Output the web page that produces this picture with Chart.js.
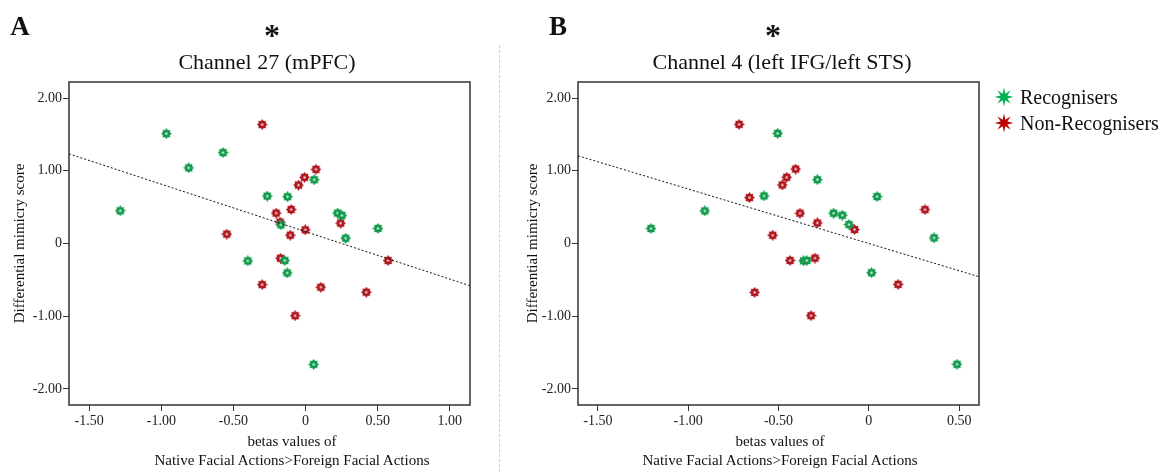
<!DOCTYPE html>
<html>
<head>
<meta charset="utf-8">
<script src="https://cdn.jsdelivr.net/npm/chart.js@4.4.1/dist/chart.umd.min.js"></script>
<style>
  body { margin: 0; background: #fff; width: 1170px; height: 472px; position: relative; overflow: hidden;
         font-family: "Liberation Serif", serif; color: #111; }
  canvas { position: absolute; top: 0; }
  .lbl { position: absolute; white-space: nowrap; transform: translate(-50%, -50%); }
  .panel { font-weight: bold; font-size: 27px; }
  .star { font-weight: bold; font-size: 32px; }
  .title { font-size: 22px; }
  .xt { font-size: 15px; line-height: 19px; text-align: center; }
  .divider { position: absolute; left: 499px; top: 45px; height: 427px; border-left: 1px dashed #cfcfcf; }
  .legend { position: absolute; left: 994px; top: 84px; font-size: 20px; }
  .legend div { height: 26px; display: flex; align-items: center; }
  .legend svg { margin-right: 6px; }
</style>
</head>
<body>
<canvas id="chartA" width="490" height="472" style="left:0"></canvas>
<canvas id="chartB" width="500" height="472" style="left:500px"></canvas>
<div class="divider"></div>

<div class="lbl panel" style="left:20px; top:26px">A</div>
<div class="lbl star" style="left:272px; top:35px">*</div>
<div class="lbl title" style="left:267px; top:62px">Channel 27 (mPFC)</div>
<div class="lbl xt" style="left:292px; top:451px">betas values of<br>Native Facial Actions&gt;Foreign Facial Actions</div>

<div class="lbl panel" style="left:558px; top:26px">B</div>
<div class="lbl star" style="left:773px; top:35px">*</div>
<div class="lbl title" style="left:782px; top:62px">Channel 4 (left IFG/left STS)</div>
<div class="lbl xt" style="left:780px; top:451px">betas values of<br>Native Facial Actions&gt;Foreign Facial Actions</div>

<div class="legend">
  <div><svg width="20" height="20" viewBox="-10 -10 20 20"><polygon id="lg1" fill="#00b050"/></svg>Recognisers</div>
  <div><svg width="20" height="20" viewBox="-10 -10 20 20"><polygon id="lg2" fill="#c00000"/></svg>Non-Recognisers</div>
</div>

<script>
// --- Data ---
const yTicks = [-2, -1, 0, 1, 2];
const xTicksA = [-1.5, -1, -0.5, 0, 0.5, 1];
const xTicksB = [-1.5, -1, -0.5, 0, 0.5];

// Panel A: Channel 27 (mPFC)
const aRecogX = [-0.965, -0.81, -0.572, -1.285, -0.266, -0.125, 0.06, -0.171, 0.222, 0.252, 0.502, 0.278, -0.40, -0.144, -0.127, 0.056];
const aRecogY = [1.51, 1.04, 1.25, 0.45, 0.652, 0.643, 0.877, 0.257, 0.418, 0.386, 0.207, 0.073, -0.239, -0.234, -0.404, -1.662];
const aNonX = [-0.301, 0.072, -0.007, -0.049, -0.10, -0.204, -0.176, 0.243, -0.002, -0.106, -0.546, -0.174, 0.572, -0.301, 0.106, 0.421, -0.072];
const aNonY = [1.635, 1.019, 0.909, 0.803, 0.468, 0.418, 0.294, 0.28, 0.188, 0.115, 0.129, -0.202, -0.234, -0.565, -0.601, -0.67, -0.992];
const aFit = { slope: -0.652, intercept: 0.163 };

// Panel B: Channel 4 (left IFG/left STS)
const bRecogX = [-1.206, -0.908, -0.58, -0.505, -0.285, -0.195, -0.147, -0.11, -0.361, -0.343, 0.046, 0.015, 0.361, 0.488];
const bRecogY = [0.206, 0.448, 0.654, 1.513, 0.878, 0.416, 0.389, 0.261, -0.238, -0.233, 0.645, -0.402, 0.078, -1.66];
const bNonX = [-0.718, -0.661, -0.479, -0.455, -0.405, -0.381, -0.285, -0.532, -0.079, -0.436, -0.298, -0.632, -0.32, 0.162, 0.311];
const bNonY = [1.637, 0.631, 0.805, 0.91, 1.024, 0.416, 0.283, 0.114, 0.192, -0.233, -0.201, -0.672, -0.992, -0.562, 0.466];
const bFit = { slope: -0.749, intercept: 0.0 };

const GREEN = '#119a4c';
const RED = '#b0161e';

// 8-pointed star points
function starPoints(ro, ri, n) {
    const pts = [];
    for (let i = 0; i < n * 2; i++) {
        const r = i % 2 === 0 ? ro : ri;
        const a = -Math.PI / 2 + i * Math.PI / n;
        pts.push([r * Math.cos(a), r * Math.sin(a)]);
    }
    return pts;
}

document.getElementById('lg1').setAttribute('points', starPoints(9.5, 3.6, 8).map(p => p.join(',')).join(' '));
document.getElementById('lg2').setAttribute('points', starPoints(9.5, 3.6, 8).map(p => p.join(',')).join(' '));

// small marker image used as pointStyle
function makeMarker(color) {
    const c = document.createElement('canvas');
    c.width = 11; c.height = 11;
    const g = c.getContext('2d');
    g.translate(5.5, 5.5);
    g.fillStyle = color;
    g.beginPath();
    starPoints(5.4, 3.8, 8).forEach((p, i) => i ? g.lineTo(p[0], p[1]) : g.moveTo(p[0], p[1]));
    g.closePath();
    g.fill();
    g.fillStyle = '#fff';
    g.fillRect(-1, -1, 2, 2);
    return c;
}

const zip = (xs, ys) => xs.map((x, i) => ({ x: x, y: ys[i] }));

// box around the plot area
const frame = {
    id: 'frame',
    afterDraw(chart) {
        const { ctx, chartArea: a } = chart;
        ctx.save();
        ctx.strokeStyle = '#333';
        ctx.lineWidth = 1.5;
        ctx.strokeRect(a.left, a.top, a.right - a.left, a.bottom - a.top);
        ctx.restore();
    }
};

function makeChart(id, p) {
    const fitLine = [p.xMin, p.xMax].map(x => ({ x: x, y: p.fit.slope * x + p.fit.intercept }));
    return new Chart(document.getElementById(id), {
        type: 'scatter',
        data: {
            datasets: [
                { label: 'fit', type: 'line', data: fitLine, borderColor: '#111', borderWidth: 1,
                  borderDash: [2, 2], pointRadius: 0, fill: false, order: 0 },
                { label: 'Recognisers', data: zip(p.rx, p.ry), pointStyle: makeMarker(GREEN), order: 1 },
                { label: 'Non-Recognisers', data: zip(p.nx, p.ny), pointStyle: makeMarker(RED), order: 1 }
            ]
        },
        options: {
            responsive: false,
            animation: false,
            layout: { padding: { top: 82, right: p.padRight, left: 0, bottom: 0 } },
            plugins: { legend: { display: false }, tooltip: { enabled: false } },
            scales: {
                x: {
                    type: 'linear', min: p.xMin, max: p.xMax,
                    afterBuildTicks: s => { s.ticks = p.xTicks.map(v => ({ value: v })); },
                    afterFit: s => { s.height = 67; },
                    grid: { drawOnChartArea: false, tickLength: 6, color: '#333' },
                    border: { display: false },
                    ticks: { color: '#222', font: { family: 'Liberation Serif', size: 14 }, padding: 2,
                             maxRotation: 0, callback: v => v === 0 ? '0' : v.toFixed(2) }
                },
                y: {
                    type: 'linear', min: -2.22, max: 2.22,
                    afterBuildTicks: s => { s.ticks = yTicks.map(v => ({ value: v })); },
                    afterFit: s => { s.width = p.yWidth; },
                    grid: { drawOnChartArea: false, tickLength: 6, color: '#333' },
                    border: { display: false },
                    ticks: { color: '#222', font: { family: 'Liberation Serif', size: 14 }, padding: 1,
                             callback: v => v === 0 ? '0' : v.toFixed(2) },
                    title: { display: true, text: 'Differential mimicry score', color: '#111',
                             font: { family: 'Liberation Serif', size: 15 }, padding: { top: p.yTitlePad, bottom: 0 } }
                }
            }
        },
        plugins: [frame]
    });
}

makeChart('chartA', { rx: aRecogX, ry: aRecogY, nx: aNonX, ny: aNonY, fit: aFit,
    xMin: -1.64, xMax: 1.14, xTicks: xTicksA, yWidth: 69, padRight: 20, yTitlePad: 11 });
makeChart('chartB', { rx: bRecogX, ry: bRecogY, nx: bNonX, ny: bNonY, fit: bFit,
    xMin: -1.61, xMax: 0.61, xTicks: xTicksB, yWidth: 78, padRight: 21, yTitlePad: 24 });
</script>
</body>
</html>
